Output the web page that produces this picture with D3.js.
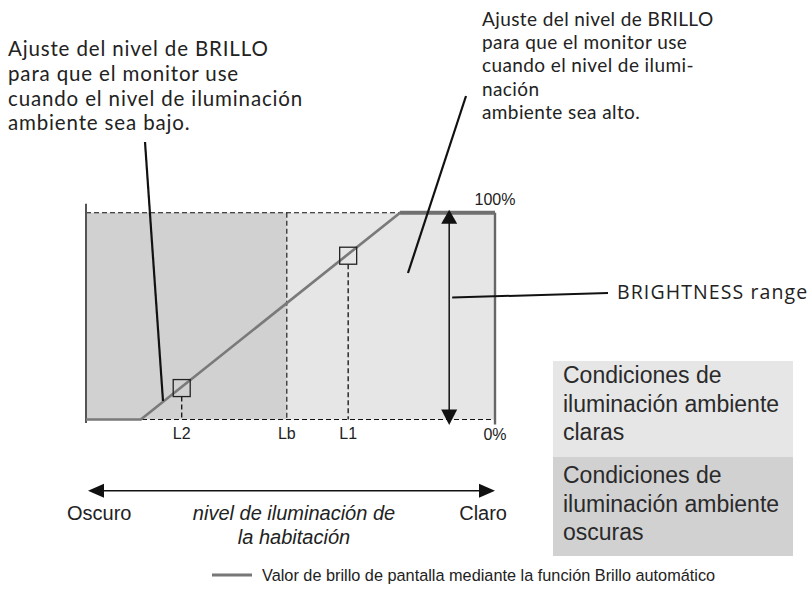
<!DOCTYPE html>
<html><head><meta charset="utf-8">
<script src="https://cdn.jsdelivr.net/npm/d3@7"></script>
<style>body{margin:0;background:#fff}svg{display:block}</style>
</head><body>
<script>
// ---- data ----
const curveIllum = [0, 13.4, 76.8, 100];          // room illuminance (0 = dark, 100 = bright)
const curveBright = [0, 0, 100, 100];              // screen brightness %
const tickNames = ["L2", "Lb", "L1"];
const tickIllum = [23.4, 49.1, 64.1];
const markerNames = ["L2", "L1"];
const markerIllum = [23.4, 64.1];
const markerBright = [15.2, 79.2];
const regionNames = ["dark", "bright"];
const regionStart = [0, 49.1];
const regionEnd = [49.1, 100];
const yTickLabels = ["0%", "100%"];
const yTickValues = [0, 100];
const rangeArrowIllum = 88.8;
const leftNote = ["Ajuste del nivel de BRILLO", "para que el monitor use", "cuando el nivel de iluminación", "ambiente sea bajo."];
const rightNote = ["Ajuste del nivel de BRILLO", "para que el monitor use", "cuando el nivel de ilumi-", "nación", "ambiente sea alto."];
const legendBright = ["Condiciones de", "iluminación ambiente", "claras"];
const legendDark = ["Condiciones de", "iluminación ambiente", "oscuras"];
const axisTitle = ["nivel de iluminación de", "la habitación"];
const axisEnds = ["Oscuro", "Claro"];
const curveLabel = "Valor de brillo de pantalla mediante la función Brillo automático";
const rangeLabel = "BRIGHTNESS range";

// ---- drawing ----
const W = 812, H = 607;
const svg = d3.select("body").append("svg").attr("width", W).attr("height", H);
const x = d3.scaleLinear().domain([0, 100]).range([86, 495]);
const y = d3.scaleLinear().domain([0, 100]).range([419.5, 212.7]);
const futura = "Lato, 'Open Sans', sans-serif";
const futura2 = "'Open Sans', Lato, sans-serif";
const arial = "'Liberation Sans', Arial, sans-serif";

// regions
const regionFill = ["#d1d1d2", "#e6e6e7"];
svg.selectAll("rect.region").data(regionNames).join("rect")
  .attr("x", (d, i) => x(regionStart[i])).attr("width", (d, i) => x(regionEnd[i]) - x(regionStart[i]))
  .attr("y", y(100)).attr("height", y(0) - y(100)).attr("fill", (d, i) => regionFill[i]);

// dashed horizontals
svg.selectAll("line.h").data(yTickValues).join("line")
  .attr("x1", x(0)).attr("x2", x(100)).attr("y1", d => y(d)).attr("y2", d => y(d))
  .attr("stroke", "#111").attr("stroke-width", 1.1).attr("stroke-dasharray", "5,3");

// borders
svg.append("line").attr("x1", x(0)).attr("x2", x(0)).attr("y1", y(100) - 9).attr("y2", y(0) + 3.5)
  .attr("stroke", "#555").attr("stroke-width", 2);
svg.append("line").attr("x1", x(100)).attr("x2", x(100)).attr("y1", y(100)).attr("y2", y(0) + 5)
  .attr("stroke", "#666").attr("stroke-width", 2.4);

// Lb dashed vertical (region boundary)
svg.append("line").attr("x1", x(tickIllum[1])).attr("x2", x(tickIllum[1])).attr("y1", y(100)).attr("y2", y(0))
  .attr("stroke", "#111").attr("stroke-width", 1.1).attr("stroke-dasharray", "5,3");

// marker dashed verticals
const ms = 17;
svg.selectAll("line.mv").data(markerIllum).join("line")
  .attr("x1", d => x(d)).attr("x2", d => x(d))
  .attr("y1", (d, i) => y(markerBright[i]) + ms / 2).attr("y2", y(0))
  .attr("stroke", "#111").attr("stroke-width", 1.3).attr("stroke-dasharray", "5,3");

// curve
const pts = curveIllum.map((v, i) => [x(v), y(curveBright[i])]);
svg.append("path").attr("d", d3.line()(pts)).attr("fill", "none")
  .attr("stroke", "#7a7a7a").attr("stroke-width", 2.7).attr("stroke-linejoin", "round");
svg.append("path").attr("d", d3.line()(pts.slice(2))).attr("fill", "none")
  .attr("stroke", "#707070").attr("stroke-width", 4);

// markers
svg.selectAll("rect.marker").data(markerIllum).join("rect")
  .attr("x", d => x(d) - ms / 2).attr("y", (d, i) => y(markerBright[i]) - ms / 2)
  .attr("width", ms).attr("height", ms).attr("fill", "none").attr("stroke", "#222").attr("stroke-width", 1.3);

// tick labels
svg.selectAll("text.tick").data(tickNames).join("text")
  .attr("x", (d, i) => x(tickIllum[i])).attr("y", 439).attr("text-anchor", "middle")
  .attr("font-family", arial).attr("font-size", 16).attr("fill", "#222").text(d => d);
svg.selectAll("text.ytick").data(yTickLabels).join("text")
  .attr("x", x(100)).attr("y", (d, i) => i === 0 ? 440 : 205).attr("text-anchor", "middle")
  .attr("font-family", arial).attr("font-size", 16).attr("fill", "#222").text(d => d);

// brightness range arrow
const ax = x(rangeArrowIllum);
svg.append("line").attr("x1", ax).attr("x2", ax).attr("y1", y(100) + 8).attr("y2", y(0) - 8)
  .attr("stroke", "#111").attr("stroke-width", 1.5);
svg.append("path").attr("d", `M${ax},${y(100) - 3}L${ax - 8},${y(100) + 11}L${ax + 8},${y(100) + 11}Z`).attr("fill", "#111");
svg.append("path").attr("d", `M${ax},${y(0) + 5.5}L${ax - 8},${y(0) - 10}L${ax + 8},${y(0) - 10}Z`).attr("fill", "#111");
svg.append("line").attr("x1", ax + 3).attr("y1", 297.5).attr("x2", 608).attr("y2", 293)
  .attr("stroke", "#111").attr("stroke-width", 2);
svg.append("text").attr("x", 617).attr("y", 299).attr("font-family", futura2).attr("font-size", 19.5)
  .attr("letter-spacing", 1.1).attr("fill", "#222").text(rangeLabel);

// annotation leader lines
svg.append("line").attr("x1", 145).attr("y1", 142).attr("x2", 163).attr("y2", 401)
  .attr("stroke", "#111").attr("stroke-width", 2.2);
svg.append("line").attr("x1", 466).attr("y1", 96).attr("x2", 408).attr("y2", 273)
  .attr("stroke", "#111").attr("stroke-width", 2.2);

// annotation texts
svg.append("g").selectAll("text").data(leftNote).join("text")
  .attr("x", 8).attr("y", (d, i) => 56 + i * 24.8).attr("font-family", futura).attr("font-size", 20.5)
  .attr("letter-spacing", 0.85).attr("fill", "#222").text(d => d);
svg.append("g").selectAll("text").data(rightNote).join("text")
  .attr("x", 482).attr("y", (d, i) => 26 + i * 23.2).attr("font-family", futura).attr("font-size", 19)
  .attr("letter-spacing", 0.4).attr("fill", "#222").text(d => d);

// legend boxes
const boxes = [legendBright, legendDark];
const boxFill = ["#e6e6e7", "#d1d1d2"];
boxes.forEach((lines, b) => {
  svg.append("rect").attr("x", 553).attr("y", 361 + b * 96).attr("width", 240).attr("height", b === 0 ? 96 : 99)
    .attr("fill", boxFill[b]);
  svg.append("g").selectAll("text").data(lines).join("text")
    .attr("x", 563).attr("y", (d, i) => 383 + b * 100 + i * 28.7)
    .attr("font-family", arial).attr("font-size", 23).attr("fill", "#2a2a2a").text(d => d);
});

// horizontal axis arrow
const ay = 490.7;
svg.append("line").attr("x1", x(0) + 10).attr("x2", x(100) - 10).attr("y1", ay).attr("y2", ay)
  .attr("stroke", "#111").attr("stroke-width", 1.5);
svg.append("path").attr("d", `M${x(0) + 2},${ay}L${x(0) + 18},${ay - 7}L${x(0) + 18},${ay + 7}Z`).attr("fill", "#111");
svg.append("path").attr("d", `M${x(100)},${ay}L${x(100) - 16},${ay - 7}L${x(100) - 16},${ay + 7}Z`).attr("fill", "#111");
svg.append("text").attr("x", 67).attr("y", 520).attr("font-family", arial).attr("font-size", 20)
  .attr("fill", "#222").text(axisEnds[0]);
svg.append("text").attr("x", 507).attr("y", 520).attr("text-anchor", "end").attr("font-family", arial).attr("font-size", 20)
  .attr("fill", "#222").text(axisEnds[1]);
svg.append("g").selectAll("text").data(axisTitle).join("text")
  .attr("x", 294).attr("y", (d, i) => 520 + i * 23.5).attr("text-anchor", "middle")
  .attr("font-family", arial).attr("font-style", "italic").attr("font-size", 20).attr("fill", "#222").text(d => d);

// curve legend
svg.append("line").attr("x1", 212).attr("x2", 252).attr("y1", 575).attr("y2", 575)
  .attr("stroke", "#777").attr("stroke-width", 3);
svg.append("text").attr("x", 262).attr("y", 581).attr("font-family", arial).attr("font-size", 16.3)
  .attr("fill", "#222").text(curveLabel);
</script>
</body></html>
